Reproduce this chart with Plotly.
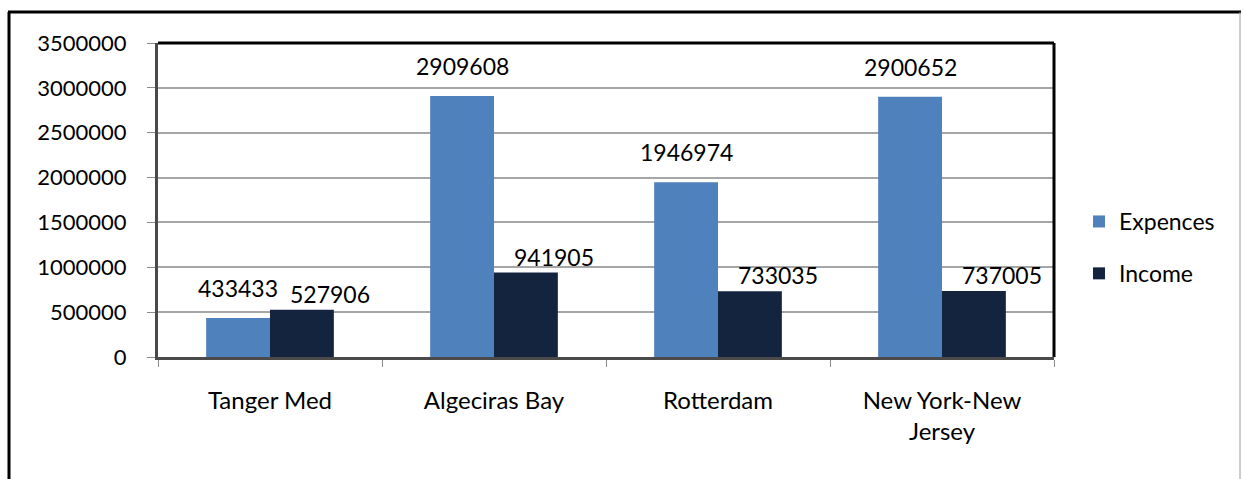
import plotly.graph_objects as go

categories = ["Tanger Med", "Algeciras Bay", "Rotterdam", "New York-New<br>Jersey"]
expences = [433433, 2909608, 1946974, 2900652]
income = [527906, 941905, 733035, 737005]
y_ticks = [0, 500000, 1000000, 1500000, 2000000, 2500000, 3000000, 3500000]

W, H = 1244, 479
L, R, T, B = 158, 190, 43, 122
PW, PH = W - L - R, H - T - B

FONT = "Lato"
C_EXP = "#4F81BD"
C_INC = "#14243F"

fig = go.Figure()
fig.add_trace(go.Bar(name="Expences", x=categories, y=expences, marker_color=C_EXP,
                     marker_line_width=0, legendgroup="a"))
fig.add_trace(go.Bar(name="Income", x=categories, y=income, marker_color=C_INC,
                     marker_line_width=0, legendgroup="b"))

bar_px = PW / len(categories) * (1 - 0.43) / 2

annotations = []
for c, v in zip(categories, expences):
    annotations.append(dict(x=c, y=v, xref="x", yref="y", text=str(v), showarrow=False,
                            xshift=-bar_px / 2, yshift=30, yanchor="middle",
                            font=dict(family=FONT, size=23, color="black")))
for c, v in zip(categories, income):
    annotations.append(dict(x=c, y=v, xref="x", yref="y", text=str(v), showarrow=False,
                            xshift=bar_px / 2 + 28, yshift=16, yanchor="middle",
                            font=dict(family=FONT, size=23, color="black")))

def px_x(p):
    return (p - L) / PW

def px_y(p):
    return (H - B - p) / PH

shapes = [
    # outer frame
    dict(type="line", xref="paper", yref="paper", x0=px_x(8), x1=px_x(1241), y0=px_y(12), y1=px_y(12),
         line=dict(color="black", width=3)),
    dict(type="line", xref="paper", yref="paper", x0=px_x(9), x1=px_x(9), y0=px_y(12), y1=px_y(490),
         line=dict(color="black", width=3)),
    dict(type="line", xref="paper", yref="paper", x0=px_x(1240), x1=px_x(1240), y0=px_y(12), y1=px_y(490),
         line=dict(color="#9a9a9a", width=1)),
    # plot frame top/right
    dict(type="line", xref="paper", yref="paper", x0=0, x1=1, y0=1, y1=1,
         line=dict(color="black", width=3), layer="above"),
    dict(type="line", xref="paper", yref="paper", x0=1, x1=1, y0=0, y1=1,
         line=dict(color="black", width=3), layer="above"),
]

fig.update_layout(
    width=W, height=H,
    margin=dict(l=L, r=R, t=T, b=B, autoexpand=False),
    paper_bgcolor="white", plot_bgcolor="white",
    barmode="group", bargap=0.43, bargroupgap=0,
    font=dict(family=FONT, size=22, color="black"),
    legend=dict(x=px_x(1079), y=px_y(200), xanchor="left", yanchor="top",
                font=dict(family=FONT, size=23, color="black"),
                tracegroupgap=19, itemwidth=30, bgcolor="rgba(0,0,0,0)"),
    annotations=annotations,
    shapes=shapes,
    showlegend=True,
)
fig.update_xaxes(showline=True, linecolor="#4a4a4a", linewidth=3,
                 ticks="outside", tickson="boundaries", ticklen=7, tickcolor="#8a8a8a", tickwidth=1,
                 tickfont=dict(family=FONT, size=24, color="black"), ticklabelstandoff=20,
                 showgrid=False)
fig.update_yaxes(range=[0, 3500000], tickvals=y_ticks, ticktext=[str(t) for t in y_ticks],
                 showline=True, linecolor="#4a4a4a", linewidth=3,
                 ticks="outside", ticklen=8, tickcolor="#8a8a8a", tickwidth=1,
                 tickfont=dict(family=FONT, size=22, color="black"), ticklabelstandoff=16,
                 showgrid=True, gridcolor="#a6a6a6", gridwidth=1.5, zeroline=False)

fig.write_html("out.html")
